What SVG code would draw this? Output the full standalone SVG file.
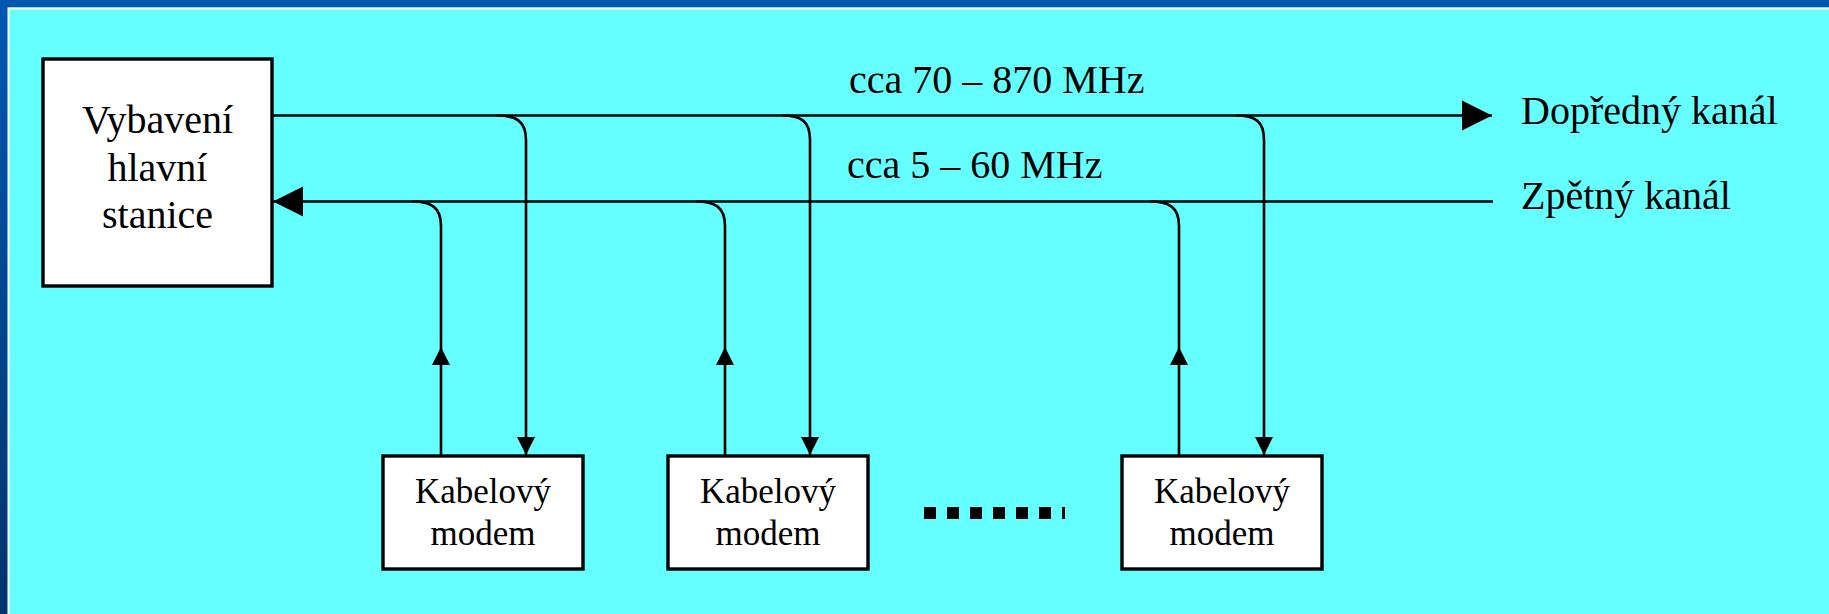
<svg xmlns="http://www.w3.org/2000/svg" width="1829" height="614" viewBox="0 0 1829 614">
<style>
.ln{fill:none;stroke:#000;stroke-width:2.6}
.box{fill:#fff;stroke:#000;stroke-width:3.4}
.t{font-family:"Liberation Serif","Times New Roman",serif;fill:#000;text-anchor:middle}
.tl{font-family:"Liberation Serif","Times New Roman",serif;fill:#000}
</style>
<defs>
<linearGradient id="lg" x1="0" y1="0" x2="0" y2="1">
<stop offset="0" stop-color="#0058B0"/>
<stop offset="1" stop-color="#00336E"/>
</linearGradient>
<marker id="ah" viewBox="0 0 10 10" refX="10" refY="5" markerUnits="userSpaceOnUse" markerWidth="30" markerHeight="31" orient="auto">
<path d="M0,0 L10,5 L0,10 Z" fill="#000"/>
</marker>
<marker id="as" viewBox="0 0 10 10" refX="10" refY="5" markerUnits="userSpaceOnUse" markerWidth="18" markerHeight="18" orient="auto">
<path d="M0,0 L10,5 L0,10 Z" fill="#000"/>
</marker>
</defs>
<rect x="0" y="0" width="1829" height="614" fill="#66FFFF"/>
<rect x="0" y="0" width="1829" height="7.5" fill="#0057AE"/>
<rect x="0" y="0" width="8.5" height="614" fill="url(#lg)"/>
<path d="M8.5,614 V8.5 H1829" fill="none" stroke="#fff" stroke-width="2"/>

<g id="connectors">
<!-- forward line -->
<path class="ln" d="M272,115.5 H1492" marker-end="url(#ah)"/>
<!-- return line -->
<path class="ln" d="M1493,201.5 H273" marker-end="url(#ah)"/>
<!-- forward branches -->
<path class="ln" d="M497,115.5 C516,115.5 526,121 526,140 V455" marker-end="url(#as)"/>
<path class="ln" d="M782,115.5 C801,115.5 810,121 810,140 V455" marker-end="url(#as)"/>
<path class="ln" d="M1236,115.5 C1255,115.5 1264,121 1264,140 V455" marker-end="url(#as)"/>
<!-- return branches (up) -->
<path class="ln" d="M441,456 V363"/>
<path class="ln" d="M441,364 V347" marker-end="url(#as)"/>
<path class="ln" d="M441,347 V226 C441,207 431,201.5 412,201.5"/>
<path class="ln" d="M725,456 V364"/>
<path class="ln" d="M725,364 V347" marker-end="url(#as)"/>
<path class="ln" d="M725,347 V226 C725,207 715,201.5 696,201.5"/>
<path class="ln" d="M1179,456 V364"/>
<path class="ln" d="M1179,364 V347" marker-end="url(#as)"/>
<path class="ln" d="M1179,347 V226 C1179,207 1169,201.5 1150,201.5"/>
<!-- continuation dots -->
<path d="M924,513 H1065" stroke="#000" stroke-width="12" stroke-dasharray="12 11" fill="none"/>
</g>

<g id="headend">
<rect class="box" x="43" y="59" width="229" height="227"/>
<text class="t" x="157.5" y="133" font-size="40">Vybavení</text>
<text class="t" x="157.5" y="180.5" font-size="40">hlavní</text>
<text class="t" x="157.5" y="228" font-size="40">stanice</text>
</g>

<g id="modem1">
<rect class="box" x="383" y="456" width="200" height="113"/>
<text class="t" x="483" y="503" font-size="35">Kabelový</text>
<text class="t" x="483" y="545" font-size="35">modem</text>
</g>
<g id="modem2">
<rect class="box" x="668" y="456" width="200" height="113"/>
<text class="t" x="768" y="503" font-size="35">Kabelový</text>
<text class="t" x="768" y="545" font-size="35">modem</text>
</g>
<g id="modem3">
<rect class="box" x="1122" y="456" width="200" height="113"/>
<text class="t" x="1222" y="503" font-size="35">Kabelový</text>
<text class="t" x="1222" y="545" font-size="35">modem</text>
</g>

<g id="labels">
<text class="tl" x="849" y="93" font-size="40">cca 70 – 870 MHz</text>
<text class="tl" x="847" y="178" font-size="40">cca 5 – 60 MHz</text>
<text class="tl" x="1521" y="124" font-size="40">Dopředný kanál</text>
<text class="tl" x="1521" y="209" font-size="40">Zpětný kanál</text>
</g>
</svg>
